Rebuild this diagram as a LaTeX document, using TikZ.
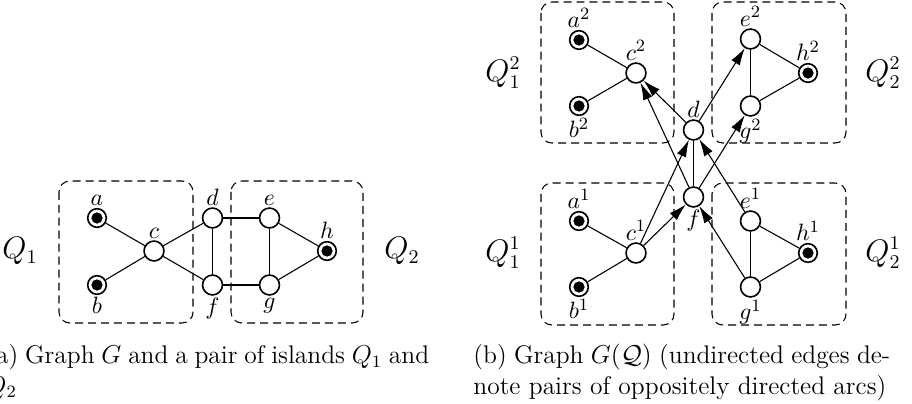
\documentclass[tikz,border=0pt]{standalone}
\usetikzlibrary{arrows.meta}
\begin{document}
\begin{tikzpicture}[x=0.463pt,y=-0.463pt,
  every node/.style={font=\fontsize{10.95}{13.6}\selectfont},
  vtx/.style={circle,draw,line width=0.75pt,fill=white,minimum size=9.2pt,inner sep=0pt},
  term/.style={vtx,minimum size=8.6pt,path picture={\fill[black] (path picture bounding box.center) circle (2.6pt);}},
  lbl/.style={inner sep=0.8pt},
  edge/.style={line width=0.5pt},
  arc/.style={line width=0.5pt,-{Latex[length=8pt,width=4.6pt]}},
  island/.style={dash pattern=on 3.7pt off 2.3pt, rounded corners=5pt, line width=0.5pt},
  qlab/.style={font=\fontsize{13.5}{16}\selectfont},
  captext/.style={anchor=base west,inner sep=0pt,font=\fontsize{11.8}{13.9}\selectfont}
]
\useasboundingbox (0,0) rectangle (912,404);

% ---------- (a) ----------
\draw[island] (59,181) rectangle (193,323);
\draw[island] (231,181) rectangle (363,323);
\node[qlab] (Q1) at (20,251) {$Q_1$};
\node[qlab] (Q2) at (402,251) {$Q_2$};

\node[term,label={[lbl]above:$a$}] (a) at (97,218) {};
\node[term,label={[lbl]below:$b$}] (b) at (97,285) {};
\node[vtx,label={[lbl]above:$c$}] (c) at (154,251) {};
\node[vtx,label={[lbl]above:$d$}] (d) at (212.5,218) {};
\node[vtx,label={[lbl]below:$f$}] (f) at (212.5,285) {};
\node[vtx,label={[lbl]above:$e$}] (e) at (269.5,218) {};
\node[vtx,label={[lbl]below:$g$}] (g) at (269.5,285) {};
\node[term,label={[lbl]above:$h$}] (h) at (327,251) {};

\draw[edge] (a) -- (c);
\draw[edge] (b) -- (c);
\draw[edge] (c) -- (d);
\draw[edge] (c) -- (f);
\draw[edge] (d) -- (f);
\draw[edge] (d) -- (e);
\draw[edge] (f) -- (g);
\draw[edge] (e) -- (g);
\draw[edge] (e) -- (h);
\draw[edge] (g) -- (h);

\node[captext] (capa) at (-14,364)
  {\parbox[t]{205pt}{(a) Graph $G$ and a pair of islands $Q_1$ and\linebreak $Q_2$}};

% ---------- (b) ----------
\draw[island] (541,2) rectangle (674,143);
\draw[island] (712,2) rectangle (846,143);
\draw[island] (541,183) rectangle (674,325);
\draw[island] (712,183) rectangle (846,325);
\node[qlab] (Q12) at (503,73) {$Q_1^2$};
\node[qlab] (Q22) at (883,73) {$Q_2^2$};
\node[qlab] (Q11) at (503,253) {$Q_1^1$};
\node[qlab] (Q21) at (883,253) {$Q_2^1$};

\node[term,label={[lbl]above:$a^2$}] (a2) at (579,40) {};
\node[term,label={[lbl]below:$b^2$}] (b2) at (579,106) {};
\node[vtx,label={[lbl]above:$c^2$}] (c2) at (636,73) {};
\node[vtx,label={[lbl]above:$e^2$}] (e2) at (750.5,39) {};
\node[vtx,label={[lbl]below:$g^2$}] (g2) at (750.5,106) {};
\node[term,label={[lbl]above:$h^2$}] (h2) at (808,73) {};

\node[term,label={[lbl]above:$a^1$}] (a1) at (579,221) {};
\node[term,label={[lbl]below:$b^1$}] (b1) at (579,287) {};
\node[vtx,label={[lbl]above:$c^1$}] (c1) at (636,253) {};
\node[vtx,label={[lbl]above:$e^1$}] (e1) at (750.5,221) {};
\node[vtx,label={[lbl]below:$g^1$}] (g1) at (750.5,287) {};
\node[term,label={[lbl]above:$h^1$}] (h1) at (808,253) {};

\node[vtx,label={[lbl]above:$d$}] (dd) at (693.5,130) {};
\node[vtx,label={[lbl]below:$f$}] (ff) at (693.5,197) {};

\draw[edge] (a2) -- (c2);
\draw[edge] (b2) -- (c2);
\draw[edge] (e2) -- (g2);
\draw[edge] (e2) -- (h2);
\draw[edge] (g2) -- (h2);
\draw[edge] (a1) -- (c1);
\draw[edge] (b1) -- (c1);
\draw[edge] (e1) -- (g1);
\draw[edge] (e1) -- (h1);
\draw[edge] (g1) -- (h1);
\draw[edge] (dd) -- (ff);

\draw[arc] (dd) -- (c2);
\draw[arc] (ff) -- (c2);
\draw[arc] (dd) -- (e2);
\draw[arc] (ff) -- (g2);
\draw[arc] (c1) -- (dd);
\draw[arc] (c1) -- (ff);
\draw[arc] (e1) -- (dd);
\draw[arc] (g1) -- (ff);

\node[captext] (capb) at (473,364)
  {\parbox[t]{193pt}{(b) Graph $G(\mathcal{Q})$ (undirected edges de-\linebreak note pairs of oppositely directed arcs)}};
\end{tikzpicture}
\end{document}
